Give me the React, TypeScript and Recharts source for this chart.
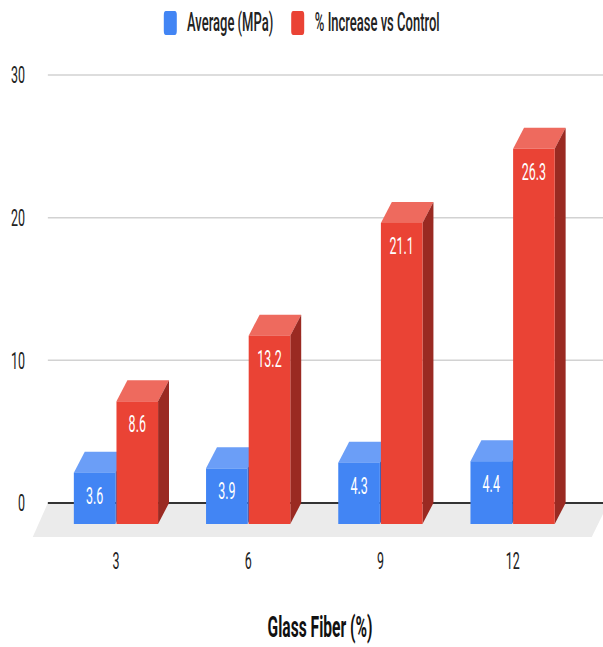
import { BarChart, Bar, XAxis, YAxis, CartesianGrid, Legend, LabelList } from 'recharts';

// values per glass fiber dosage
const categories = ['3', '6', '9', '12'];
const averageMpa = [3.6, 3.9, 4.3, 4.4];
const increaseVsControl = [8.6, 13.2, 21.1, 26.3];
const yTicks = [0, 10, 20, 30];
const seriesNames = ['Average (MPa)', '% Increase vs Control'];

const data = categories.map((fiber, i) => ({
    fiber,
    average: averageMpa[i],
    increase: increaseVsControl[i],
}));

// the chart is laid out wide and then squeezed horizontally
const SQUEEZE = 0.52;
const OUT_W = 603;
const OUT_H = 647;
const CHART_W = Math.round(OUT_W / SQUEEZE);
const DEPTH = 21;
const MARGIN = { top: 96, right: 0, bottom: 53, left: 0 };
const X_AXIS_H = 70;
const Y_AXIS_W = 71;
const PLOT_BOTTOM = OUT_H - MARGIN.bottom - X_AXIS_H;
const FONT = 'Roboto, "Liberation Sans", Arial, sans-serif';

const BLUE = { front: '#4285f4', top: '#6b9ef7', side: '#2f62c2' };
const RED = { front: '#ea4335', top: '#ee6a5e', side: '#9a2a22' };

const makeBox = (c: { front: string; top: string; side: string }) => (props: any) => {
    const { x, y, width, height } = props;
    if (!height) return <g />;
    const d = DEPTH;
    return (
        <g>
            <polygon
                points={`${x},${y} ${x + width},${y} ${x + width + d},${y - d} ${x + d},${y - d}`}
                fill={c.top}
            />
            <polygon
                points={`${x + width},${y} ${x + width + d},${y - d} ${x + width + d},${y + height - d} ${x + width},${y + height}`}
                fill={c.side}
            />
            <rect x={x} y={y} width={width} height={height} fill={c.front} />
        </g>
    );
};

// grid lines sit on the back wall
const BackGridLine = (p: any) => {
    const isZero = p.y1 >= PLOT_BOTTOM - 0.5;
    return (
        <line
            key={p.key ?? p.index}
            x1={p.x1 + DEPTH}
            y1={p.y1 - DEPTH}
            x2={p.x2 + DEPTH}
            y2={p.y2 - DEPTH}
            stroke={isZero ? '#333' : '#d2d2d2'}
            strokeWidth={isZero ? 2 : 1.5}
        />
    );
};

const YTick = ({ x, y, payload }: any) => (
    <text x={x - 15} y={y - DEPTH + 8.5} textAnchor="end" fontSize={24} fill="#222" fontFamily={FONT}>
        {payload.value}
    </text>
);

const XTick = ({ x, y, payload }: any) => (
    <text x={x} y={y + 37} textAnchor="middle" fontSize={24} fill="#222" fontFamily={FONT}>
        {payload.value}
    </text>
);

const AxisTitle = ({ viewBox }: any) => (
    <text
        x={viewBox.x + viewBox.width / 2}
        y={viewBox.y + 113}
        textAnchor="middle"
        fontSize={30}
        fontWeight={700}
        fill="#111"
        fontFamily={FONT}
    >
        Glass Fiber (%)
    </text>
);

const ValueLabel = ({ x, y, width, value }: any) => (
    <text x={x + width / 2} y={y + 31} textAnchor="middle" fontSize={24} fill="#fff" fontFamily={FONT}>
        {value}
    </text>
);

const LegendContent = ({ payload }: any) => {
    const items = [...(payload || [])].sort(
        (a: any, b: any) => seriesNames.indexOf(a.value) - seriesNames.indexOf(b.value)
    );
    return (
        <div style={{ height: 0, position: 'relative' }}>
            <div
                style={{
                    position: 'absolute',
                    top: 11,
                    left: 0,
                    width: CHART_W,
                    display: 'flex',
                    justifyContent: 'center',
                    alignItems: 'center',
                    fontFamily: FONT,
                }}
            >
                {items.map((entry: any, i: number) => (
                    <div key={entry.value} style={{ display: 'flex', alignItems: 'center', marginLeft: i ? 35 : 0 }}>
                        <span
                            style={{ width: 25, height: 24, borderRadius: 4, background: entry.color, display: 'inline-block' }}
                        />
                        <span style={{ marginLeft: 20, fontSize: 25, fontWeight: 500, color: '#222', lineHeight: '24px' }}>
                            {entry.value}
                        </span>
                    </div>
                ))}
            </div>
        </div>
    );
};

const App = () => {
    const floorBackY = PLOT_BOTTOM - DEPTH;
    const floorFrontY = PLOT_BOTTOM + 13;
    return (
        <div
            style={{
                position: 'absolute',
                left: 0,
                top: 0,
                width: OUT_W,
                height: OUT_H,
                overflow: 'hidden',
                background: '#fff',
            }}
        >
            <div
                style={{
                    position: 'relative',
                    width: CHART_W,
                    height: OUT_H,
                    transform: `scaleX(${SQUEEZE})`,
                    transformOrigin: '0 0',
                }}
            >
                {/* floor under the bars */}
                <svg width={CHART_W} height={OUT_H} style={{ position: 'absolute', left: 0, top: 0 }}>
                    <polygon
                        points={`${Y_AXIS_W - 8},${floorFrontY} ${CHART_W - 22},${floorFrontY} ${CHART_W + 10},${floorBackY} ${Y_AXIS_W + DEPTH},${floorBackY}`}
                        fill="#ebebeb"
                    />
                </svg>
                <BarChart
                    width={CHART_W}
                    height={OUT_H}
                    data={data}
                    margin={MARGIN}
                    barSize={80}
                    barGap={2}
                    style={{ position: 'relative' }}
                >
                    <CartesianGrid vertical={false} horizontal={BackGridLine} />
                    <XAxis
                        dataKey="fiber"
                        height={X_AXIS_H}
                        padding={{ left: 25, right: 47 }}
                        axisLine={false}
                        tickLine={false}
                        tick={<XTick />}
                        label={<AxisTitle />}
                    />
                    <YAxis
                        width={Y_AXIS_W}
                        domain={[0, 30]}
                        ticks={yTicks}
                        axisLine={false}
                        tickLine={false}
                        tick={<YTick />}
                    />
                    <Legend verticalAlign="top" wrapperStyle={{ top: 0, left: 0, width: CHART_W }} content={<LegendContent />} />
                    <Bar dataKey="average" name={seriesNames[0]} fill={BLUE.front} shape={makeBox(BLUE)} isAnimationActive={false}>
                        <LabelList dataKey="average" content={<ValueLabel />} />
                    </Bar>
                    <Bar dataKey="increase" name={seriesNames[1]} fill={RED.front} shape={makeBox(RED)} isAnimationActive={false}>
                        <LabelList dataKey="increase" content={<ValueLabel />} />
                    </Bar>
                </BarChart>
            </div>
        </div>
    );
};

export default App;
